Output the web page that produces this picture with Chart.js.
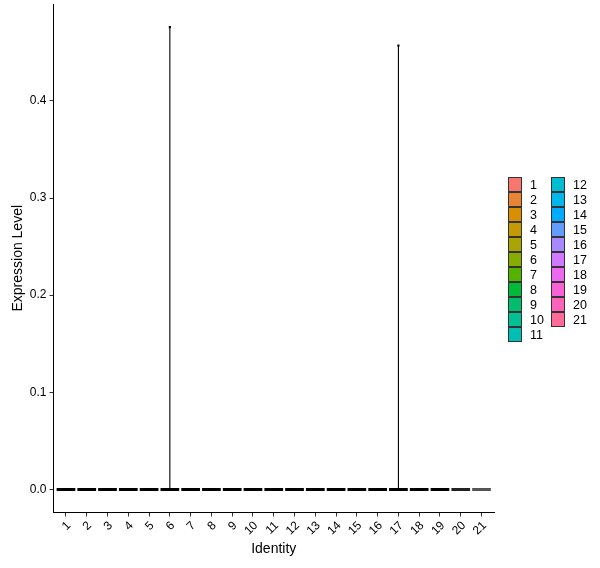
<!DOCTYPE html>
<html>
<head>
<meta charset="utf-8">
<script src="https://cdn.jsdelivr.net/npm/chart.js@4"></script>
<style>
html,body{margin:0;padding:0;background:#fff;}
#wrap{width:600px;height:568px;position:relative;}
</style>
</head>
<body>
<div id="wrap"><canvas id="c" width="600" height="568"></canvas></div>
<script>
// ---- data ----
const categories = ['1','2','3','4','5','6','7','8','9','10','11','12','13','14','15','16','17','18','19','20','21'];
const minExpr = [0,0,0,0,0,0,0,0,0,0,0,0,0,0,0,0,0,0,0,0,0];
const maxExpr = [0,0,0,0,0,0.476,0,0,0,0,0,0,0,0,0,0,0.457,0,0,0,0];
const yTicks = [0.0,0.1,0.2,0.3,0.4];
const xTitle = 'Identity';
const yTitle = 'Expression Level';

// ---- styles ----
const FONT = "'Liberation Sans', Arial, sans-serif";
function hcl(h, c, l){
  const hr = h*Math.PI/180, u = c*Math.cos(hr), v = c*Math.sin(hr);
  const Y = l>8 ? Math.pow((l+16)/116,3) : l/903.3;
  const un = 0.19783000664283, vn = 0.46831999493879;
  const up = u/(13*l)+un, vp = v/(13*l)+vn;
  const X = Y*9*up/(4*vp), Z = Y*(12-3*up-20*vp)/(4*vp);
  let r = 3.240479*X-1.537150*Y-0.498535*Z;
  let g = -0.969256*X+1.875992*Y+0.041556*Z;
  let b = 0.055648*X-0.204043*Y+1.057311*Z;
  const gm = x => { x = x<=0.0031308 ? 12.92*x : 1.055*Math.pow(x,1/2.4)-0.055; return Math.round(Math.max(0,Math.min(1,x))*255); };
  return 'rgb('+gm(r)+','+gm(g)+','+gm(b)+')';
}
const palette = categories.map((c,i)=>hcl(15+i*360/categories.length,100,65));
const violinHalfWidth = 0.45;

// build marks from data
const baseData = [];
categories.forEach((c,i)=>{
  baseData.push({x:i+1-violinHalfWidth,y:minExpr[i]},{x:i+1+violinHalfWidth,y:minExpr[i]},{x:i+1,y:null});
});
const stemData = [];
const topData = [];
categories.forEach((c,i)=>{
  if(maxExpr[i]>minExpr[i]){
    stemData.push({x:i+1,y:minExpr[i]},{x:i+1,y:maxExpr[i]},{x:i+1,y:null});
    topData.push({x:i+1,y:maxExpr[i]});
  }
});

const legendPlugin = {
  id:'vlnLegend',
  afterDraw(chart){
    const ctx = chart.ctx;
    ctx.save();
    const perCol = Math.ceil(categories.length/2);
    const bw = 14, bh = 15, x0 = 508, y0 = 177, colGap = 43;
    ctx.font = '12.5px '+FONT;
    ctx.textBaseline = 'middle';
    ctx.textAlign = 'left';
    categories.forEach((c,i)=>{
      const col = Math.floor(i/perCol), row = i%perCol;
      const x = x0+col*colGap, y = y0+row*bh;
      ctx.fillStyle = palette[i];
      ctx.fillRect(x,y,bw,bh);
      ctx.strokeStyle = '#333';
      ctx.lineWidth = 1;
      ctx.strokeRect(x+0.5,y+0.5,bw-1,bh-1);
      ctx.fillStyle = '#000';
      ctx.fillText(c, x+bw+8, y+bh/2+1);
    });
    ctx.restore();
  }
};

new Chart(document.getElementById('c'),{
  type:'line',
  data:{datasets:[
    {data:baseData,borderColor:'#000',borderWidth:3,pointRadius:0,spanGaps:false,
     segment:{borderColor:ctx=>{const i=Math.floor(ctx.p0DataIndex/3);return i===categories.length-1?'#555':(i===categories.length-2?'#222':'#000');}}},
    {data:stemData,borderColor:'#000',borderWidth:1.1,pointRadius:0,spanGaps:false},
    {data:topData,showLine:false,pointStyle:'rect',pointRadius:1.5,pointBackgroundColor:'#000',pointBorderWidth:0}
  ]},
  options:{
    responsive:false,animation:false,
    layout:{padding:{top:4,right:106,left:0,bottom:0}},
    plugins:{legend:{display:false},tooltip:{enabled:false}},
    scales:{
      x:{type:'linear',min:0.4,max:21.6,
        afterBuildTicks:s=>{s.ticks=categories.map((c,i)=>({value:i+1}));},
        afterFit:s=>{s.height=55.5;s.paddingLeft=0;s.paddingRight=0;},
        ticks:{autoSkip:false,minRotation:45,maxRotation:45,padding:2,labelOffset:3,color:'#000',font:{family:FONT,size:12},
          callback:v=>categories[Math.round(v)-1]},
        grid:{display:true,drawOnChartArea:false,drawTicks:true,tickLength:4,color:'#333'},
        border:{display:true,color:'#000',width:1},
        title:{display:true,text:xTitle,color:'#000',font:{family:FONT,size:14},padding:{top:0,bottom:10}}
      },
      y:{type:'linear',min:-0.0238,max:0.4998,
        afterBuildTicks:s=>{s.ticks=yTicks.map(v=>({value:v}));},
        afterFit:s=>{s.width=53.5;s.paddingTop=0;s.paddingBottom=0;},
        ticks:{padding:3,color:'#000',font:{family:FONT,size:12},callback:v=>Number(v).toFixed(1)},
        grid:{display:true,drawOnChartArea:false,drawTicks:true,tickLength:4,color:'#333'},
        border:{display:true,color:'#000',width:1},
        title:{display:true,text:yTitle,color:'#000',font:{family:FONT,size:14},padding:{top:10,bottom:0}}
      }
    }
  },
  plugins:[legendPlugin]
});
</script>
</body>
</html>
